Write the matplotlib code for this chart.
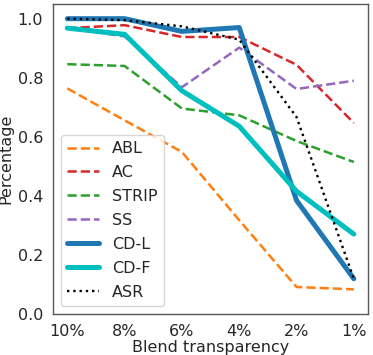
import numpy as np
import matplotlib
matplotlib.use('Agg')
import matplotlib.pyplot as plt
import seaborn as sns

sns.set_style('white')

labels = ['10%', '8%', '6%', '4%', '2%', '1%']
abl = [0.764, 0.656, 0.549, 0.318, 0.092, 0.084]
ac = [0.968, 0.978, 0.938, 0.938, 0.844, 0.647]
strip = [0.846, 0.840, 0.696, 0.673, 0.586, 0.515]
ss = [0.968, 0.940, 0.768, 0.902, 0.762, 0.790]
cdl = [1.0, 1.0, 0.957, 0.970, 0.385, 0.120]
cdf = [0.968, 0.947, 0.756, 0.636, 0.416, 0.271]
asr = [1.0, 0.995, 0.974, 0.929, 0.667, 0.120]

fig = plt.figure(figsize=(3.73, 3.55), dpi=100)
ax = fig.add_axes([0.142, 0.115, 0.845, 0.874])
x = np.arange(len(labels))

ax.plot(x, abl, '--', color='tab:orange', lw=1.8, label='ABL')
ax.plot(x, ac, '--', color='tab:red', lw=1.8, label='AC')
ax.plot(x, strip, '--', color='tab:green', lw=1.8, label='STRIP')
ax.plot(x, ss, '--', color='tab:purple', lw=1.8, label='SS')
ax.plot(x, cdl, '-', color='tab:blue', lw=3.6, label='CD-L')
ax.plot(x, cdf, '-', color='c', lw=3.6, label='CD-F')
ax.plot(x, asr, ':', color='black', lw=1.7, label='ASR')

ax.set_xticks(x)
ax.set_xticklabels(labels, fontsize=11.5)
ax.set_ylim(0, 1.05)
ax.set_yticks([0.0, 0.2, 0.4, 0.6, 0.8, 1.0])
ax.tick_params(axis='y', labelsize=11.5)
ax.set_xlabel('Blend transparency', fontsize=11.5, labelpad=1)
ax.set_ylabel('Percentage', fontsize=11.5, labelpad=3)
for s in ax.spines.values():
    s.set_color('0.35')
    s.set_linewidth(1.0)
ax.legend(loc='lower left', fontsize=11.5, handlelength=2.0, labelspacing=0.56)

fig.savefig('out.png', dpi=100)
